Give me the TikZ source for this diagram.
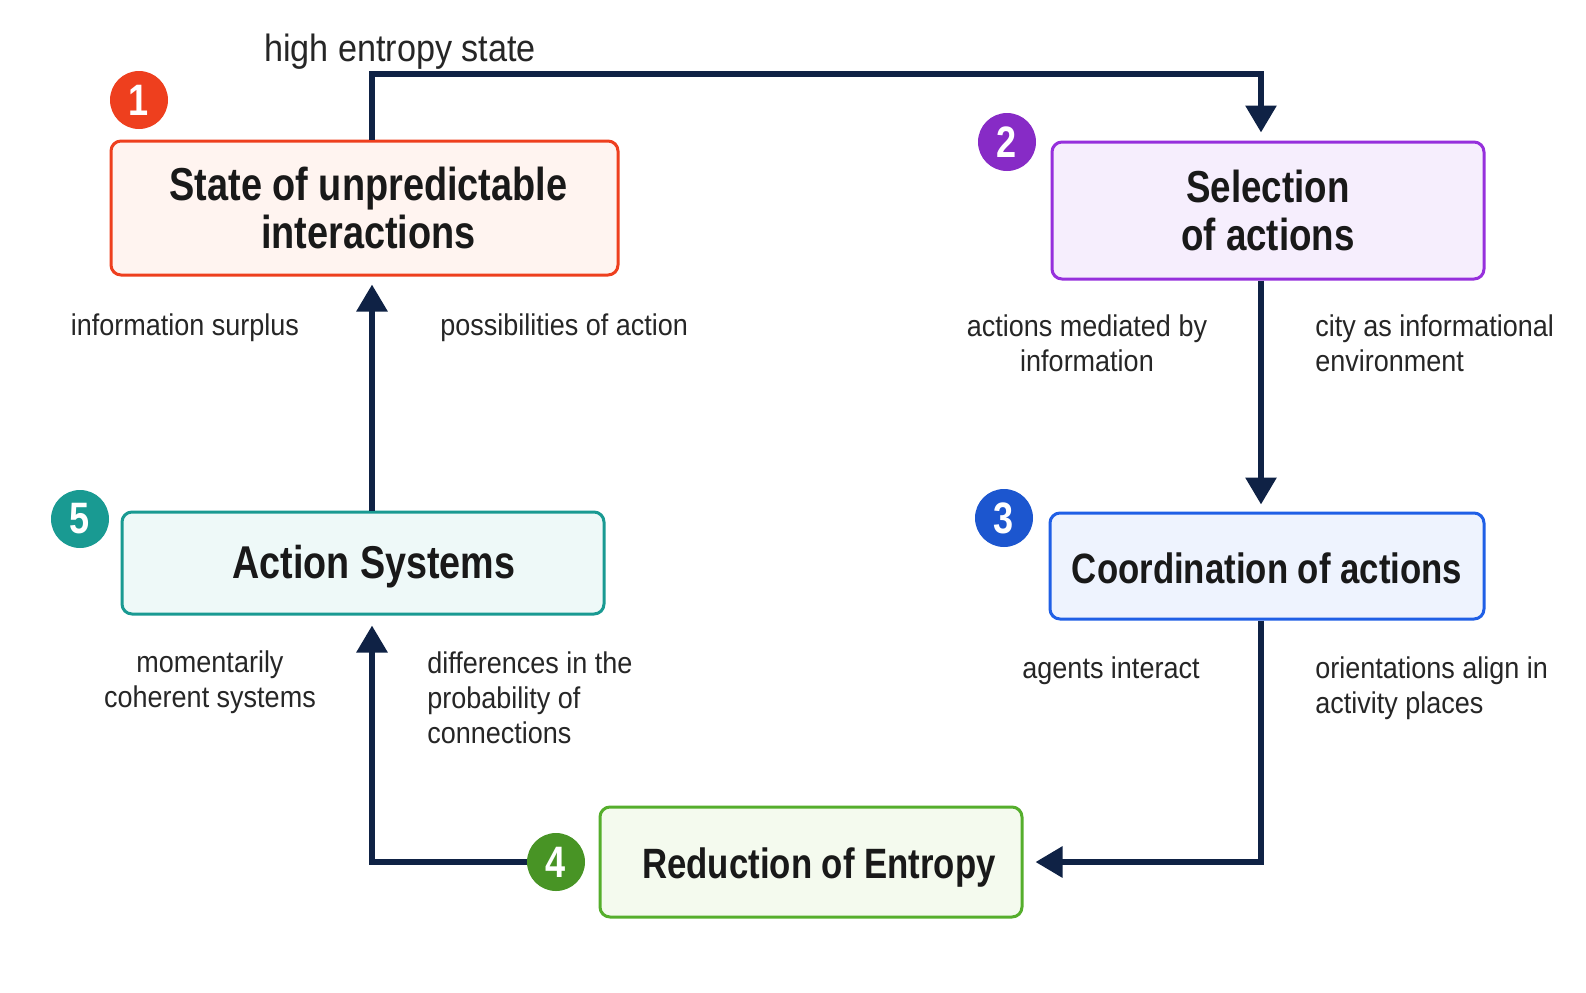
\documentclass[tikz,border=0pt]{standalone}
\usepackage{fontspec}
\setmainfont{Liberation Sans}[FakeStretch=0.9]
\newfontfamily\titlefont{Liberation Sans}[FakeStretch=0.82]
\usepackage{tikz}
\usetikzlibrary{arrows.meta,positioning}

\definecolor{navy}{HTML}{0F2245}
\definecolor{redA}{HTML}{EE3F1E}
\definecolor{redF}{HTML}{FFF4F0}
\definecolor{purA}{HTML}{9630DC}
\definecolor{purF}{HTML}{F6EEFD}
\definecolor{bluA}{HTML}{1F5FE6}
\definecolor{bluF}{HTML}{EEF3FE}
\definecolor{grnA}{HTML}{55AE2C}
\definecolor{grnF}{HTML}{F4FAEE}
\definecolor{tealA}{HTML}{199A92}
\definecolor{tealF}{HTML}{EEF9F8}

\newcommand{\tsize}[1]{\fontsize{#1}{24}\selectfont}
\newcommand{\sinktext}[2]{\raisebox{-#1}[\height][\depth]{#2}}

\begin{document}
\begin{tikzpicture}[x=0.5pt,y=-0.5pt,>={Triangle[width=15pt,length=13.5pt]}]
\tikzset{box/.style={draw,line width=1.5pt,rounded corners=5pt,align=center,
           text=black!90}}
\tikzset{num/.style={circle,minimum size=29pt,inner sep=0pt,text=white,
           font=\titlefont\fontsize{22}{22}\selectfont\bfseries}}
\tikzset{lbl/.style={font=\fontsize{15}{17.5}\selectfont,text=black!85,inner sep=0pt}}
\tikzset{flow/.style={->,navy,line width=3pt}}

  \useasboundingbox[fill=white] (0,0) rectangle (1586,992);

  \node[box,draw=redA,fill=redF,minimum width=253.5pt,minimum height=67pt,
        font=\titlefont\tsize{23.1}\bfseries]  (B1) at (364.5,208) {\hspace{4pt}State of unpredictable\\\hspace{4pt}interactions};
  \node[box,draw=purA,fill=purF,minimum width=216pt,minimum height=68.5pt,
        font=\titlefont\tsize{22.4}\bfseries]  (B2) at (1268,210.5) {Selection\\of actions};
  \node[box,draw=bluA,fill=bluF,minimum width=217pt,minimum height=53pt,
        font=\titlefont\tsize{21.2}\bfseries]  (B3) at (1267,566) {\sinktext{1pt}{Coordination of actions}};
  \node[box,draw=grnA,fill=grnF,minimum width=211pt,minimum height=55pt,
        font=\titlefont\tsize{21.2}\bfseries]  (B4) at (811,862) {\hspace{8pt}\sinktext{3pt}{Reduction of Entropy}};
  \node[box,draw=tealA,fill=tealF,minimum width=241pt,minimum height=51pt,
        font=\titlefont\tsize{23}\bfseries]    (B5) at (363,563) {\hspace{11pt}\sinktext{2pt}{Action Systems}};

  \node[num,fill=redA]  (N1) at (139,100) {1};
  \node[num,fill=purA!90!black] (N2) at (1007,142) {2};
  \node[num,fill=bluA!90!black] (N3) at (1004,518) {3};
  \node[num,fill=grnA!85!black] (N4) at (556,862) {4};
  \node[num,fill=tealA] (N5) at (80,519) {5};

  \coordinate (L) at (372,74);
  \coordinate (R) at (1261,74);

  % cycle of arrows
  \draw[flow,shorten >=4pt] (B1.north -| L) |- (R) -- (B2.north -| R);
  \draw[flow,shorten >=3.5pt] (B2.south -| R) -- (B3.north -| R);
  \draw[flow,shorten >=6pt] (B3.south -| R) |- (B4.east);
  \draw[flow,shorten >=5pt] (N4.west) -| (B5.south -| L);
  \draw[flow,shorten >=4pt] (B5.north -| L) -- (B1.south -| L);

  \node[lbl,font=\fontsize{19}{23}\selectfont] (high) at (400,52) {high entropy state};
  \node[lbl] (surplus) at (185,328) {information surplus};
  \node[lbl,anchor=west] (possib) at (440,328) {possibilities of action};
  \node[lbl,align=center] (mediated) at (1087,343) {actions mediated by\\information};
  \node[lbl,align=left,anchor=west] (city) at (1315,343) {city as informational\\environment};
  \node[lbl,align=center] (coherent) at (210,682) {momentarily\\coherent systems};
  \node[lbl,align=left,anchor=west] (differ) at (427,698) {differences in the\\probability of\\connections};
  \node[lbl] (agents) at (1111,671) {agents interact};
  \node[lbl,align=left,anchor=west] (orient) at (1315,688) {orientations align in\\activity places};

\end{tikzpicture}
\end{document}
